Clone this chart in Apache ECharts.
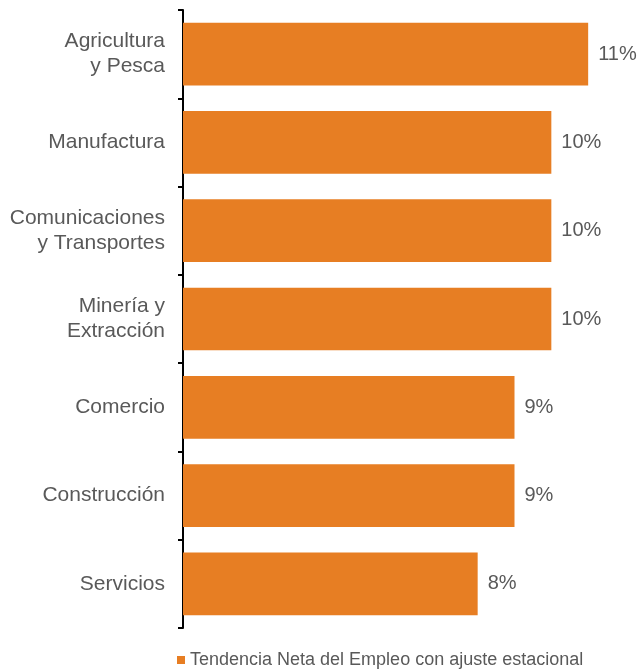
<!DOCTYPE html>
<html>
<head>
<meta charset="utf-8">
<script src="https://cdn.jsdelivr.net/npm/echarts@6/dist/echarts.min.js"></script>
<style>
html,body{margin:0;padding:0;background:#fff;}
#chart{width:639px;height:669px;}
</style>
</head>
<body>
<div id="chart"></div>
<script>
var categories = ["Agricultura\ny Pesca", "Manufactura", "Comunicaciones\ny Transportes", "Minería y\nExtracción", "Comercio", "Construcción", "Servicios"];
var values = [11, 10, 10, 10, 9, 9, 8];
var seriesName = "Tendencia Neta del Empleo con ajuste estacional";

var chart = echarts.init(document.getElementById('chart'));
chart.setOption({
  animation: false,
  textStyle: { fontFamily: "Liberation Sans, Arial, sans-serif" },
  grid: { left: 183, right: 14, top: 10, bottom: 41, containLabel: false },
  legend: {
    data: [seriesName],
    left: 172,
    top: 646,
    icon: 'rect',
    itemWidth: 8,
    itemHeight: 8,
    itemGap: 5,
    textStyle: { color: '#595959', fontSize: 18, fontFamily: "Liberation Sans, Arial, sans-serif" }
  },
  xAxis: {
    type: 'value', min: 0, max: 12, show: false
  },
  yAxis: {
    type: 'category',
    inverse: true,
    data: categories,
    axisLine: { show: true, lineStyle: { color: '#000', width: 2 } },
    axisTick: { show: true, length: 5, lineStyle: { color: '#000', width: 2 } },
    axisLabel: { color: '#595959', fontSize: 21, lineHeight: 25, margin: 18, align: 'right' },
    splitLine: { show: false }
  },
  series: [{
    name: seriesName,
    type: 'bar',
    data: values,
    barCategoryGap: '29%',
    itemStyle: { color: '#E77E23' },
    label: {
      show: true, position: 'right', distance: 10,
      formatter: function(p){ return p.value + '%'; },
      color: '#595959', fontSize: 20
    }
  }]
});
</script>
</body>
</html>
